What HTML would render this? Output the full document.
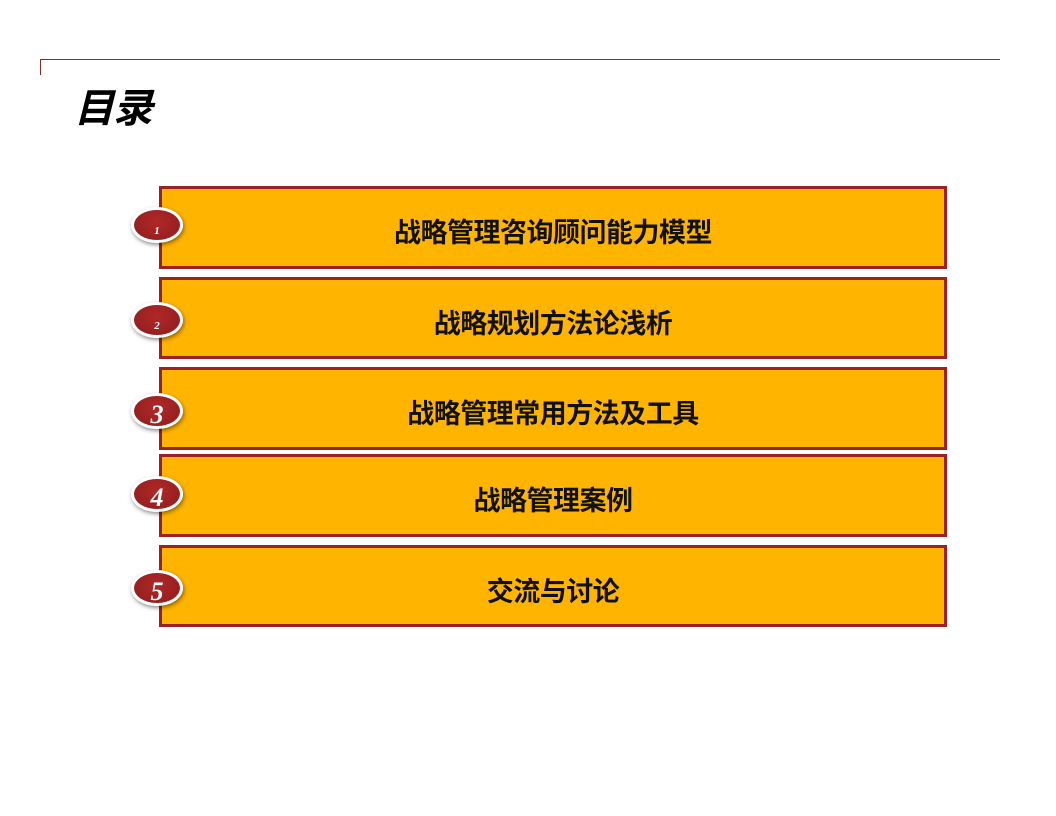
<!DOCTYPE html>
<html><head><meta charset="utf-8"><style>
html,body{margin:0;padding:0;background:#fff;}
body{width:1056px;height:816px;position:relative;overflow:hidden;font-family:"Liberation Sans","Noto Sans CJK SC",sans-serif;}
.hl{position:absolute;left:40px;top:59px;width:960px;height:1px;background:#8b2a2a;}
.vl{position:absolute;left:40px;top:59px;width:1px;height:16px;background:#8b2a2a;}
.title{position:absolute;left:74px;top:76px;font-size:40px;font-weight:bold;font-style:italic;color:#000;letter-spacing:-1px;}
.box{position:absolute;left:159px;width:788px;background:#ffb400;border:3px solid #9b2222;display:flex;align-items:center;justify-content:center;font-size:27px;font-weight:bold;color:#111;padding-top:6px;box-sizing:border-box;letter-spacing:-0.5px;}
.num{position:absolute;left:131px;width:46px;height:30px;border-radius:50%;background:radial-gradient(ellipse at 50% 40%,#b02828,#8e1c1c);border:3px solid #fff;box-shadow:1px 2px 4px rgba(0,0,0,0.45);color:#fff;font-family:"Liberation Serif",serif;font-weight:bold;font-style:italic;text-align:center;}
</style></head><body>
<div class="hl"></div><div class="vl"></div>
<div class="title">目录</div>

<div class="box" style="top:186px;height:83px;">战略管理咨询顾问能力模型</div>
<div class="box" style="top:277px;height:82px;">战略规划方法论浅析</div>
<div class="box" style="top:367px;height:83px;">战略管理常用方法及工具</div>
<div class="box" style="top:454px;height:83px;">战略管理案例</div>
<div class="box" style="top:545px;height:82px;">交流与讨论</div>

<div class="num" style="top:207px;font-size:11px;line-height:42px;">1</div>
<div class="num" style="top:302px;font-size:11px;line-height:42px;">2</div>
<div class="num" style="top:393px;font-size:26px;line-height:38px;">3</div>
<div class="num" style="top:476px;font-size:26px;line-height:38px;">4</div>
<div class="num" style="top:570px;font-size:26px;line-height:38px;">5</div>
</body></html>
